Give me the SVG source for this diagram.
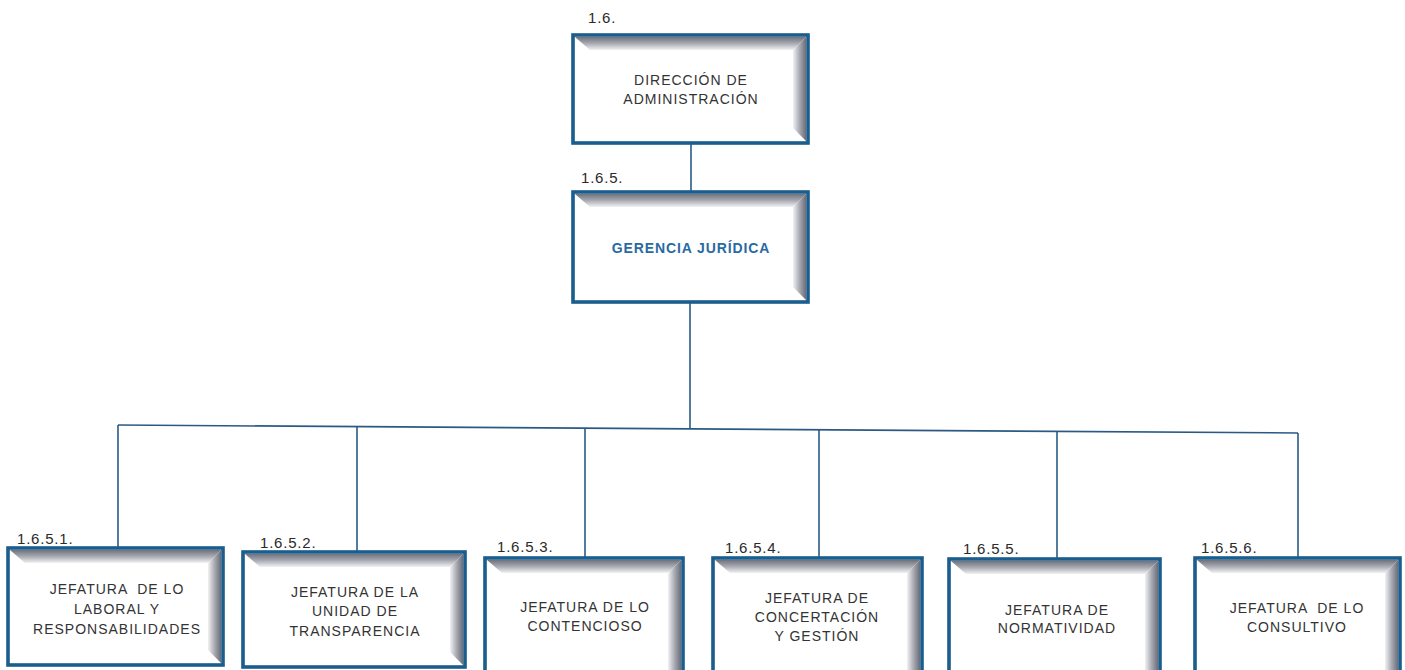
<svg xmlns="http://www.w3.org/2000/svg" width="1405" height="670" viewBox="0 0 1405 670">
<defs>
<linearGradient id="gTop" x1="0" y1="0" x2="0" y2="1">
<stop offset="0" stop-color="#6f717c"/>
<stop offset="0.5" stop-color="#a9abb3"/>
<stop offset="1" stop-color="#f2f2f4"/>
</linearGradient>
<linearGradient id="gRight" x1="0" y1="0" x2="1" y2="0">
<stop offset="0" stop-color="#f2f2f4"/>
<stop offset="0.5" stop-color="#a9abb3"/>
<stop offset="1" stop-color="#6a6c78"/>
</linearGradient>
</defs>
<style>
.box{fill:#ffffff;stroke:#1b5d8c;stroke-width:3.6}
.bt{fill:url(#gTop)}
.br{fill:url(#gRight)}
.t{font-family:"Liberation Sans",Arial,sans-serif;font-size:14px;fill:#333333;text-anchor:middle;letter-spacing:1px}
.b{font-family:"Liberation Sans",Arial,sans-serif;font-size:14px;font-weight:bold;fill:#2a6aa3;text-anchor:middle;letter-spacing:0.9px}
.n{font-family:"Liberation Sans",Arial,sans-serif;font-size:15px;fill:#2a2a2a;letter-spacing:0.8px}
.c{stroke:#2a5a84;stroke-width:1.6;fill:none}
</style>
<rect width="1405" height="670" fill="#ffffff"/>
<g id="connectors">
<line class="c" x1="691" y1="143" x2="691" y2="192"/>
<line class="c" x1="690" y1="302" x2="690" y2="429"/>
<line class="c" x1="118" y1="425" x2="1298" y2="433"/>
<line class="c" x1="118" y1="425" x2="118" y2="548"/>
<line class="c" x1="357" y1="427" x2="357" y2="552"/>
<line class="c" x1="585" y1="428" x2="585" y2="558"/>
<line class="c" x1="819" y1="430" x2="819" y2="558"/>
<line class="c" x1="1057" y1="431" x2="1057" y2="559"/>
<line class="c" x1="1298" y1="433" x2="1298" y2="558"/>
</g>
<g id="n16">
<text class="n" x="588" y="23">1.6.</text>
<rect class="box" x="573" y="35" width="235" height="108"/>
<polygon class="bt" points="575,37 806,37 793,50 590,50"/>
<polygon class="br" points="793,50 806,37 806,141 793,128"/>
<text class="t" x="691" y="85">DIRECCIÓN DE</text>
<text class="t" x="691" y="104">ADMINISTRACIÓN</text>
</g>
<g id="n165">
<text class="n" x="581" y="183">1.6.5.</text>
<rect class="box" x="573" y="192" width="235" height="110"/>
<polygon class="bt" points="575,194 806,194 793,207 590,207"/>
<polygon class="br" points="793,207 806,194 806,300 793,287"/>
<text class="b" x="691" y="253">GERENCIA JURÍDICA</text>
</g>
<g id="n1651">
<text class="n" x="17" y="544">1.6.5.1.</text>
<rect class="box" x="8" y="548" width="215" height="117"/>
<polygon class="bt" points="10,550 221,550 208,563 25,563"/>
<polygon class="br" points="208,563 221,550 221,663 208,650"/>
<text class="t" x="117" y="594" xml:space="preserve">JEFATURA  DE LO</text>
<text class="t" x="117" y="614">LABORAL Y</text>
<text class="t" x="117" y="634">RESPONSABILIDADES</text>
</g>
<g id="n1652">
<text class="n" x="260" y="548">1.6.5.2.</text>
<rect class="box" x="243" y="552" width="222" height="115"/>
<polygon class="bt" points="245,554 463,554 450,567 260,567"/>
<polygon class="br" points="450,567 463,554 463,665 450,652"/>
<text class="t" x="355" y="597">JEFATURA DE LA</text>
<text class="t" x="355" y="616">UNIDAD DE</text>
<text class="t" x="355" y="636">TRANSPARENCIA</text>
</g>
<g id="n1653">
<text class="n" x="497" y="552">1.6.5.3.</text>
<rect class="box" x="485" y="558" width="198" height="130"/>
<polygon class="bt" points="487,560 681,560 668,573 502,573"/>
<polygon class="br" points="668,573 681,560 681,686 668,673"/>
<text class="t" x="585" y="612">JEFATURA DE LO</text>
<text class="t" x="585" y="631">CONTENCIOSO</text>
</g>
<g id="n1654">
<text class="n" x="725" y="553">1.6.5.4.</text>
<rect class="box" x="713" y="558" width="209" height="130"/>
<polygon class="bt" points="715,560 920,560 907,573 730,573"/>
<polygon class="br" points="907,573 920,560 920,686 907,673"/>
<text class="t" x="817" y="603">JEFATURA DE</text>
<text class="t" x="817" y="622">CONCERTACIÓN</text>
<text class="t" x="817" y="641">Y GESTIÓN</text>
</g>
<g id="n1655">
<text class="n" x="963" y="554">1.6.5.5.</text>
<rect class="box" x="949" y="559" width="211" height="130"/>
<polygon class="bt" points="951,561 1158,561 1145,574 966,574"/>
<polygon class="br" points="1145,574 1158,561 1158,687 1145,674"/>
<text class="t" x="1057" y="615">JEFATURA DE</text>
<text class="t" x="1057" y="633">NORMATIVIDAD</text>
</g>
<g id="n1656">
<text class="n" x="1201" y="553">1.6.5.6.</text>
<rect class="box" x="1195" y="558" width="205" height="130"/>
<polygon class="bt" points="1197,560 1398,560 1385,573 1212,573"/>
<polygon class="br" points="1385,573 1398,560 1398,686 1385,673"/>
<text class="t" x="1297" y="613" xml:space="preserve">JEFATURA  DE LO</text>
<text class="t" x="1297" y="632">CONSULTIVO</text>
</g>
</svg>
